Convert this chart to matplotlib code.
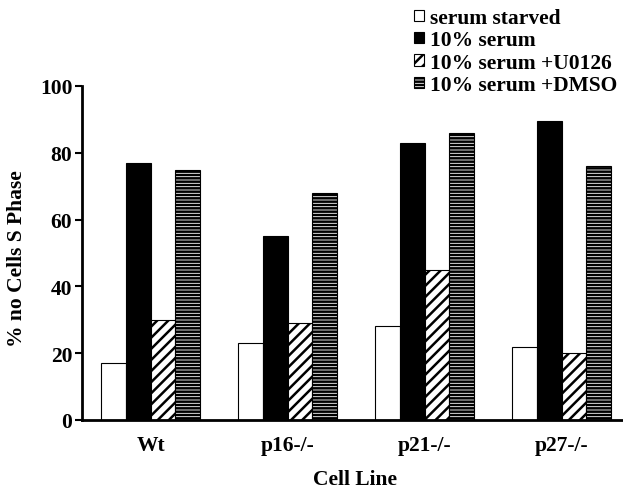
import numpy as np
import matplotlib
matplotlib.use('Agg')
import matplotlib.pyplot as plt
from matplotlib.patches import Patch

# values (% cells in S phase)
cell_lines = ['Wt', 'p16-/-', 'p21-/-', 'p27-/-']
serum_starved = [17, 23, 28, 22]
serum_10 = [77, 55, 83, 89.5]
serum_u0126 = [30, 29, 45, 20]
serum_dmso = [75, 68, 86, 76]

series = [
    ('serum starved', serum_starved, 'white', ''),
    ('10% serum', serum_10, 'black', ''),
    ('10% serum +U0126', serum_u0126, 'white', '///'),
    ('10% serum +DMSO', serum_dmso, 'white', '-----'),
]

plt.rcParams['font.family'] = 'Liberation Serif'
plt.rcParams['font.weight'] = 'bold'
plt.rcParams['hatch.linewidth'] = 1.8

fs = 15.5

fig = plt.figure(figsize=(6.23, 4.89), dpi=100)
ax = fig.add_axes([82/623, 1-421/489, 540/623, 334/489])

x = np.arange(len(cell_lines))
width = 0.18
handles = []
for i, (name, vals, color, hatch) in enumerate(series):
    ax.bar(x + (i - 1.5) * width, vals, width, color=color, hatch=hatch,
           edgecolor='black', linewidth=0.8)
    handles.append(Patch(facecolor=color, hatch=hatch, edgecolor='black',
                         linewidth=0.8, label=name))

ax.set_xlim(-0.5, 3.44)
ax.set_ylim(0, 100)
ax.set_yticks(np.arange(0, 101, 20))
ax.set_xticks(x)
ax.set_xticklabels(cell_lines, fontsize=fs, fontweight='bold')
ax.tick_params(axis='x', length=0, pad=11)
ax.tick_params(axis='y', labelsize=fs, width=1.5, length=5, pad=2)
for lbl in ax.get_yticklabels():
    lbl.set_fontweight('bold')
ax.spines['top'].set_visible(False)
ax.spines['right'].set_visible(False)
ax.spines['left'].set_linewidth(2)
ax.spines['bottom'].set_linewidth(2)

ax.set_xlabel('Cell Line', fontsize=fs, fontweight='bold')
ax.xaxis.set_label_coords(0.506, -0.148)
ax.set_ylabel('% no Cells S Phase', fontsize=fs, fontweight='bold')
ax.yaxis.set_label_coords(-0.102, 0.487)

fig.legend(handles=handles, loc='upper left',
           bbox_to_anchor=(414/623, 1 - 9/489),
           frameon=False, handlelength=0.45, handleheight=0.45,
           handletextpad=0.3, labelspacing=0.11, borderaxespad=0,
           borderpad=0, prop={'weight': 'bold', 'size': fs})

fig.savefig('out.png', dpi=100)
